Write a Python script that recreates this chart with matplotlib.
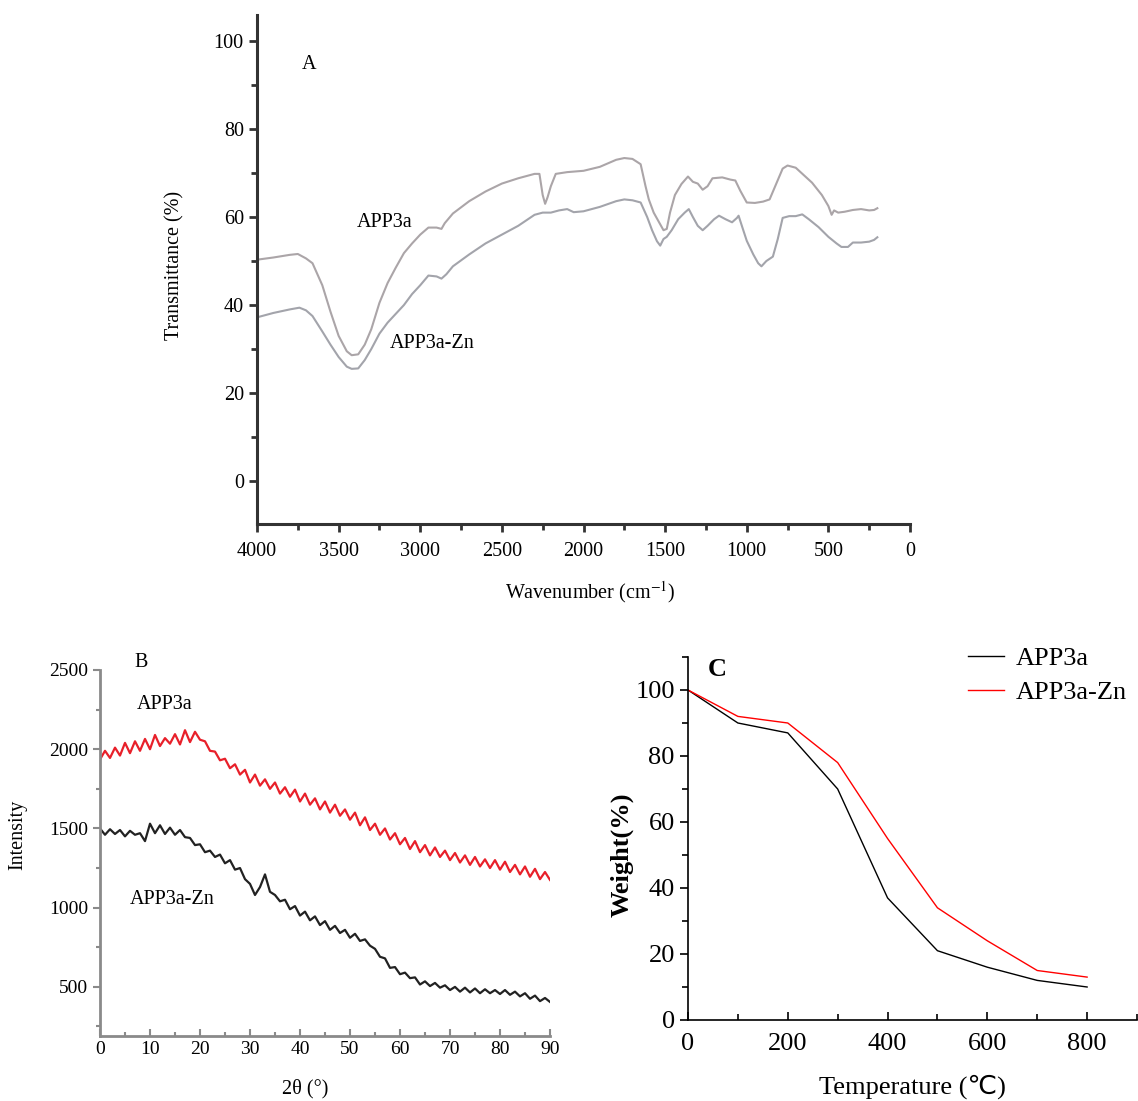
import numpy as np
import matplotlib
matplotlib.use("Agg")
import matplotlib.pyplot as plt
from matplotlib.ticker import MultipleLocator

plt.rcParams['font.family'] = ['Liberation Serif', 'DejaVu Sans']
plt.rcParams['mathtext.fontset'] = 'stix'

# ---- A: FTIR ----
wn_a = [4000, 3900, 3800, 3750, 3700, 3660, 3600, 3550, 3500, 3450, 3420, 3380, 3340,
        3300, 3250, 3200, 3150, 3100, 3050, 3000, 2950, 2900, 2870, 2850, 2800, 2700,
        2600, 2500, 2400, 2300, 2270, 2250, 2235, 2220, 2200, 2170, 2100, 2000, 1900,
        1800, 1750, 1700, 1650, 1620, 1600, 1570, 1540, 1510, 1490, 1470, 1440, 1400,
        1360, 1330, 1300, 1270, 1240, 1210, 1150, 1100, 1070, 1040, 1000, 950, 900, 860,
        820, 780, 750, 700, 650, 600, 540, 500, 480, 465, 440, 400, 350, 300, 250, 220, 200]
t_app3a = [50.3, 50.8, 51.4, 51.6, 50.6, 49.5, 44.5, 38.5, 33.0, 29.5, 28.6, 28.8, 31.0,
           34.5, 40.5, 45.0, 48.5, 51.8, 54.0, 56.0, 57.6, 57.6, 57.3, 58.6, 60.8, 63.6,
           65.8, 67.6, 68.8, 69.8, 69.8, 65.0, 63.0, 64.5, 67.0, 69.8, 70.2, 70.5, 71.4,
           73.0, 73.4, 73.2, 72.0, 67.0, 64.0, 61.0, 59.0, 57.0, 57.3, 61.0, 65.0, 67.5,
           69.2, 68.0, 67.6, 66.2, 67.0, 68.8, 69.0, 68.5, 68.3, 66.0, 63.3, 63.2, 63.5, 64.0,
           67.5, 71.0, 71.7, 71.2, 69.5, 67.8, 65.0, 62.5, 60.5, 61.5, 61.0, 61.2, 61.6, 61.8,
           61.5, 61.6, 62.0]

wn_b = [4000, 3900, 3800, 3740, 3700, 3660, 3600, 3550, 3500, 3450, 3420, 3380, 3340,
        3300, 3250, 3200, 3100, 3050, 3000, 2950, 2900, 2870, 2840, 2800, 2700, 2600,
        2500, 2400, 2300, 2250, 2200, 2150, 2100, 2060, 2000, 1900, 1800, 1750, 1700,
        1650, 1610, 1580, 1550, 1530, 1510, 1490, 1460, 1420, 1380, 1355, 1330, 1300,
        1270, 1240, 1200, 1170, 1130, 1090, 1060, 1050, 1030, 1000, 960, 930, 910, 880,
        840, 810, 780, 740, 700, 660, 620, 560, 500, 450, 420, 380, 350, 300, 250, 220, 200]
t_app3a_zn = [37.2, 38.2, 39.0, 39.4, 38.8, 37.5, 34.0, 31.0, 28.2, 26.0, 25.5, 25.6, 27.5,
              30.0, 33.5, 36.0, 40.0, 42.5, 44.5, 46.7, 46.5, 46.0, 47.0, 48.8, 51.5, 54.0,
              56.0, 58.0, 60.5, 61.0, 61.0, 61.5, 61.8, 61.1, 61.3, 62.3, 63.6, 64.0, 63.8,
              63.3, 60.0, 57.0, 54.5, 53.5, 55.0, 55.5, 57.0, 59.5, 61.0, 61.8, 60.0, 58.0,
              57.0, 58.0, 59.5, 60.3, 59.5, 58.8, 59.8, 60.3, 58.0, 54.6, 51.5, 49.5, 48.8, 50.0,
              51.0, 55.0, 59.8, 60.2, 60.2, 60.6, 59.5, 57.7, 55.5, 54.0, 53.2, 53.2, 54.2, 54.2,
              54.4, 54.8, 55.4]

# ---- B: XRD ----
two_theta = list(range(0, 91))
xrd_app3a = [1935, 1990, 1945, 2010, 1960, 2040, 1975, 2050, 1990, 2065,
             2000, 2090, 2020, 2070, 2035, 2095, 2030, 2120, 2045, 2110,
             2060, 2050, 1990, 1985, 1930, 1940, 1880, 1905, 1840, 1870,
             1790, 1840, 1770, 1810, 1750, 1790, 1720, 1760, 1700, 1745,
             1670, 1720, 1650, 1690, 1620, 1670, 1600, 1650, 1580, 1620,
             1555, 1600, 1520, 1570, 1490, 1530, 1460, 1500, 1430, 1470,
             1400, 1440, 1370, 1420, 1350, 1395, 1330, 1380, 1320, 1360,
             1300, 1345, 1285, 1330, 1270, 1320, 1260, 1305, 1250, 1300,
             1240, 1290, 1225, 1270, 1210, 1260, 1195, 1245, 1180, 1225, 1175]
xrd_app3a_zn = [1500, 1460, 1495, 1465, 1490, 1450, 1485, 1460, 1470, 1420,
                1530, 1470, 1520, 1465, 1505, 1460, 1490, 1445, 1440, 1395,
                1400, 1350, 1360, 1320, 1335, 1280, 1300, 1240, 1250, 1180,
                1150, 1080, 1130, 1210, 1100, 1080, 1040, 1050, 990, 1010,
                950, 975, 920, 945, 890, 915, 860, 885, 840, 860,
                810, 835, 790, 800, 760, 740, 690, 680, 620, 625,
                580, 590, 555, 560, 515, 535, 505, 525, 495, 510,
                480, 500, 470, 495, 465, 490, 460, 485, 460, 480,
                455, 480, 450, 470, 440, 460, 425, 445, 410, 430, 405]

# ---- C: TGA ----
temp = [0, 100, 200, 300, 400, 500, 600, 700, 800]
w_app3a = [100, 90, 87, 70, 37, 21, 16, 12, 10]
w_app3a_zn = [100, 92, 90, 78, 55, 34, 24, 15, 13]

W, H = 1138, 1101
fig = plt.figure(figsize=(W / 100, H / 100), dpi=100)


def box(x0, y0, x1, y1):
    return [x0 / W, 1 - y1 / H, (x1 - x0) / W, (y1 - y0) / H]


# Panel A
axA = fig.add_axes(box(257, 15, 910, 524))
axA.plot(wn_a, t_app3a, color='#aba5a8', lw=1.5)
axA.plot(wn_b, t_app3a_zn, color='#a3a4ab', lw=1.5)
axA.set_xlim(4000, 0)
axA.set_ylim(-9.75, 105.9)
axA.xaxis.set_major_locator(MultipleLocator(500))
axA.xaxis.set_minor_locator(MultipleLocator(250))
axA.yaxis.set_major_locator(MultipleLocator(20))
axA.yaxis.set_minor_locator(MultipleLocator(10))
for s in ['top', 'right']:
    axA.spines[s].set_visible(False)
for s in ['left', 'bottom']:
    axA.spines[s].set_linewidth(2.2)
    axA.spines[s].set_color('#333333')
axA.tick_params(which='major', direction='out', length=6, width=2, color='#333333', labelsize=14.5)
axA.tick_params(axis='x', which='major', pad=7)
axA.tick_params(which='minor', direction='out', length=4, width=2, color='#333333')
axA.text(3681, 94.6, 'A', fontsize=14.5, ha='center', va='center')
axA.text(3216, 58.7, 'APP3a', fontsize=14.5, ha='center', va='center')
axA.text(2928, 31.3, 'APP3a-Zn', fontsize=14.5, ha='center', va='center')
fig.text(175 / W, 1 - 265 / H, 'Transmittance (%)', rotation=90, fontsize=14.5,
         ha='center', va='center')
fig.text(590 / W, 1 - 592 / H, 'Wavenumber (cm$^{-1}$)', fontsize=14.5,
         ha='center', va='center')

# Panel B
axB = fig.add_axes(box(100, 670, 550, 1036))
axB.plot(two_theta, xrd_app3a, color='#e8202a', lw=1.6)
axB.plot(two_theta, xrd_app3a_zn, color='#222222', lw=1.6)
axB.set_xlim(0, 90)
axB.set_ylim(190, 2500)
axB.xaxis.set_major_locator(MultipleLocator(10))
axB.xaxis.set_minor_locator(MultipleLocator(5))
axB.yaxis.set_major_locator(MultipleLocator(500))
axB.yaxis.set_minor_locator(MultipleLocator(250))
for s in ['top', 'right']:
    axB.spines[s].set_visible(False)
for s in ['left', 'bottom']:
    axB.spines[s].set_linewidth(2.0)
    axB.spines[s].set_color('#8a8a8a')
axB.tick_params(axis='y', which='major', direction='out', length=5, width=1.5, color='#8a8a8a', labelsize=14)
axB.tick_params(axis='y', which='minor', direction='out', length=3, width=1.5, color='#8a8a8a')
axB.tick_params(axis='x', which='major', direction='in', length=5, width=1.5, color='#8a8a8a', labelsize=14)
axB.tick_params(axis='x', which='minor', direction='in', length=3, width=1.5, color='#8a8a8a')
axB.text(8.2, 2550, 'B', fontsize=14.5, ha='center', va='center', clip_on=False)
axB.text(13, 2285, 'APP3a', fontsize=14.5, ha='center', va='center')
axB.text(14.4, 1050, 'APP3a-Zn', fontsize=14.5, ha='center', va='center')
fig.text(18 / W, 1 - 835 / H, 'Intensity', rotation=90, fontsize=14.5,
         ha='center', va='center')
fig.text(305 / W, 1 - 1089 / H, '2θ (°)', fontsize=14.5, ha='center', va='center')

# Panel C
axC = fig.add_axes(box(688, 657, 1137, 1020))
axC.plot(temp, w_app3a, color='black', lw=1.0, label='APP3a')
axC.plot(temp, w_app3a_zn, color='red', lw=1.0, label='APP3a-Zn')
axC.set_xlim(0, 900)
axC.set_ylim(0, 110)
axC.xaxis.set_major_locator(MultipleLocator(200))
axC.xaxis.set_minor_locator(MultipleLocator(100))
axC.yaxis.set_major_locator(MultipleLocator(20))
axC.yaxis.set_minor_locator(MultipleLocator(10))
for s in ['top', 'right']:
    axC.spines[s].set_visible(False)
for s in ['left', 'bottom']:
    axC.spines[s].set_linewidth(1.2)
axC.tick_params(axis='y', which='major', direction='out', length=6, width=1.2, labelsize=19)
axC.tick_params(axis='y', which='minor', direction='out', length=4, width=1.2)
axC.tick_params(axis='x', which='major', direction='in', length=6, width=1.2, labelsize=19, pad=9)
axC.tick_params(axis='x', which='minor', direction='in', length=4, width=1.2)
axC.text(58, 106.3, 'C', fontsize=19, fontweight='bold', ha='center', va='center')
fig.text(622 / W, 1 - 855 / H, 'Weight(%)', rotation=90, fontsize=19, fontweight='bold',
         ha='center', va='center')
fig.text(912 / W, 1 - 1087 / H, 'Temperature (℃)', fontsize=19, ha='center', va='center')
fig.legend(loc='upper left', bbox_to_anchor=(968 / W, 1 - 647 / H), frameon=False,
           fontsize=19, handlelength=1.35, handletextpad=0.45, labelspacing=0.38,
           borderpad=0, borderaxespad=0)

fig.savefig('out.png', dpi=100)
